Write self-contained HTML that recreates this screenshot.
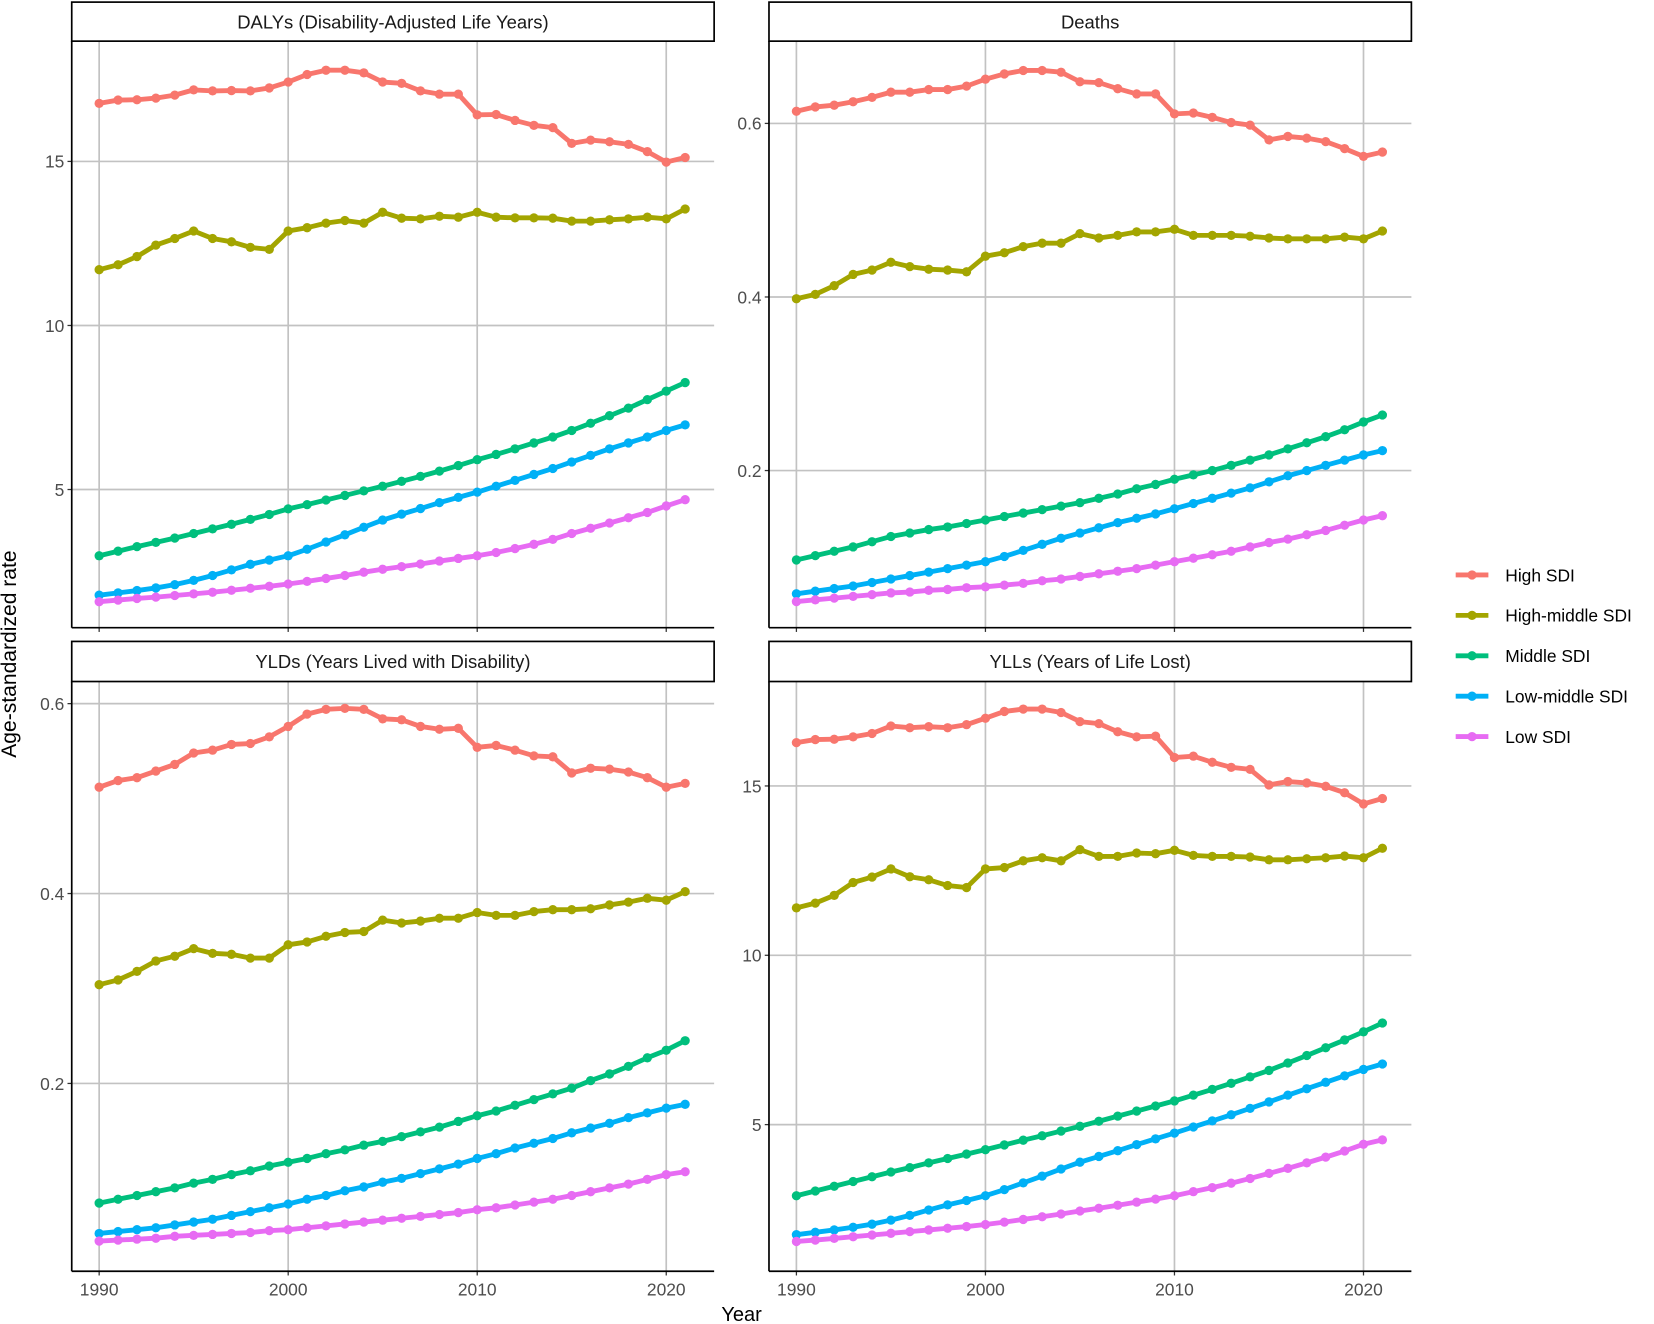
<!DOCTYPE html>
<html><head><meta charset="utf-8"><style>
html,body{margin:0;padding:0;background:#fff;}
svg{display:block;font-family:"Liberation Sans",Arial,sans-serif;}
</style></head><body>
<svg id="chart" width="1654" height="1324" viewBox="0 0 1568 1255" preserveAspectRatio="none" xmlns="http://www.w3.org/2000/svg">
<text x="0" y="0" transform="translate(15,620) rotate(-90)" text-anchor="middle" font-size="20" fill="#000">Age-standardized rate</text>
<text x="703" y="1252" text-anchor="middle" font-size="19" fill="#000">Year</text>
</svg>
<script>
const years = [];
for (let y = 1990; y <= 2021; y++) years.push(y);
const seriesNames = ["High SDI","High-middle SDI","Middle SDI","Low-middle SDI","Low SDI"];
const colors = ["#F8766D","#A3A500","#00BF7D","#00B0F6","#E76BF3"];
const xTicks = [1990,2000,2010,2020];

const dalysHigh = [16.77,16.87,16.88,16.93,17.02,17.18,17.15,17.16,17.15,17.24,17.42,17.65,17.78,17.78,17.7,17.42,17.38,17.15,17.05,17.05,16.42,16.43,16.25,16.1,16.03,15.55,15.65,15.6,15.52,15.3,14.98,15.12];
const dalysHM = [11.7,11.85,12.1,12.45,12.65,12.88,12.65,12.55,12.38,12.32,12.88,12.98,13.12,13.2,13.12,13.45,13.27,13.25,13.33,13.3,13.45,13.3,13.28,13.28,13.27,13.18,13.18,13.22,13.25,13.3,13.25,13.55];
const dalysMid = [2.98,3.12,3.26,3.39,3.52,3.66,3.8,3.94,4.09,4.24,4.41,4.54,4.68,4.82,4.96,5.1,5.25,5.4,5.56,5.73,5.91,6.07,6.24,6.42,6.6,6.8,7.02,7.25,7.48,7.74,8.0,8.26];
const dalysLM = [1.78,1.85,1.92,2.0,2.1,2.23,2.38,2.55,2.72,2.85,2.98,3.18,3.4,3.62,3.85,4.07,4.25,4.42,4.6,4.76,4.92,5.1,5.28,5.46,5.64,5.84,6.04,6.24,6.42,6.6,6.8,6.97];
const dalysLow = [1.58,1.63,1.68,1.72,1.77,1.82,1.87,1.93,1.99,2.05,2.12,2.2,2.29,2.38,2.48,2.57,2.65,2.73,2.82,2.9,2.98,3.08,3.2,3.33,3.48,3.66,3.82,3.98,4.14,4.3,4.5,4.69];

const deathsHigh = [.614,.619,.621,.625,.630,.636,.636,.639,.639,.643,.651,.657,.661,.661,.659,.648,.647,.640,.634,.634,.611,.612,.607,.601,.598,.581,.585,.583,.579,.571,.562,.567];
const deathsHM = [.398,.403,.413,.426,.431,.440,.435,.432,.431,.429,.447,.451,.458,.462,.462,.473,.468,.471,.475,.475,.478,.471,.471,.471,.470,.468,.467,.467,.467,.469,.467,.476];
const deathsMid = [.097,.102,.107,.112,.118,.124,.128,.132,.135,.139,.143,.147,.151,.155,.159,.163,.168,.173,.179,.184,.190,.195,.200,.206,.212,.218,.225,.232,.239,.247,.256,.264];
const deathsLM = [.058,.061,.064,.067,.071,.075,.079,.083,.087,.091,.095,.101,.108,.115,.122,.128,.134,.140,.145,.150,.156,.162,.168,.174,.180,.187,.194,.200,.206,.212,.218,.223];
const deathsLow = [.049,.051,.053,.055,.057,.059,.060,.062,.063,.065,.066,.068,.070,.073,.075,.078,.081,.084,.087,.091,.095,.099,.103,.107,.112,.117,.121,.126,.131,.137,.143,.148];

const yldsHigh = [.512,.519,.522,.529,.536,.548,.551,.557,.558,.565,.576,.589,.594,.595,.594,.584,.583,.576,.573,.574,.554,.556,.551,.545,.544,.527,.532,.531,.528,.522,.512,.516];
const yldsHM = [.304,.309,.318,.329,.334,.342,.337,.336,.332,.332,.346,.349,.355,.359,.360,.372,.369,.371,.374,.374,.380,.377,.377,.381,.383,.383,.384,.388,.391,.395,.393,.402];
const yldsMid = [.074,.078,.082,.086,.090,.095,.099,.104,.108,.113,.117,.121,.126,.130,.135,.139,.144,.149,.154,.160,.166,.171,.177,.183,.189,.195,.203,.210,.218,.227,.235,.245];
const yldsLM = [.042,.044,.046,.048,.051,.054,.057,.061,.065,.069,.073,.078,.082,.087,.091,.096,.100,.105,.110,.115,.121,.126,.132,.137,.142,.148,.153,.158,.164,.169,.174,.178];
const yldsLow = [.034,.035,.036,.037,.039,.040,.041,.042,.043,.045,.046,.048,.050,.052,.054,.056,.058,.060,.062,.064,.067,.069,.072,.075,.078,.082,.086,.090,.094,.099,.104,.107];

const yllsHigh = [16.28,16.37,16.38,16.45,16.55,16.77,16.72,16.75,16.72,16.81,17.0,17.2,17.27,17.27,17.17,16.9,16.84,16.6,16.45,16.47,15.84,15.88,15.7,15.55,15.49,15.03,15.13,15.09,14.99,14.8,14.47,14.63];
const yllsHM = [11.4,11.54,11.77,12.15,12.31,12.55,12.32,12.23,12.06,12.0,12.55,12.59,12.79,12.88,12.79,13.12,12.92,12.92,13.02,13.0,13.1,12.95,12.92,12.92,12.9,12.82,12.82,12.85,12.88,12.93,12.88,13.16];
const yllsMid = [2.9,3.04,3.18,3.32,3.46,3.6,3.73,3.87,4.0,4.13,4.26,4.4,4.54,4.67,4.81,4.95,5.1,5.25,5.4,5.55,5.7,5.87,6.04,6.22,6.41,6.6,6.82,7.04,7.27,7.5,7.74,8.0];
const yllsLM = [1.75,1.82,1.89,1.97,2.06,2.18,2.32,2.48,2.63,2.76,2.9,3.08,3.28,3.48,3.69,3.89,4.06,4.23,4.41,4.58,4.75,4.93,5.11,5.29,5.48,5.67,5.87,6.06,6.25,6.44,6.63,6.79];
const yllsLow = [1.55,1.59,1.64,1.69,1.74,1.79,1.84,1.89,1.94,1.99,2.05,2.12,2.2,2.28,2.36,2.45,2.53,2.62,2.71,2.8,2.9,3.02,3.14,3.27,3.41,3.56,3.71,3.87,4.04,4.22,4.42,4.55];

const panels = [
  {name:"dalys", title:"DALYs (Disability-Adjusted Life Years)", x0:68, x1:677, y0:39, y1:595, sTop:2, domain:[0.788,18.666], yTicks:[5,10,15], yLabels:["5","10","15"], data:[dalysHigh,dalysHM,dalysMid,dalysLM,dalysLow]},
  {name:"deaths", title:"Deaths", x0:729, x1:1338, y0:39, y1:595, sTop:2, domain:[0.0189,0.6948], yTicks:[0.2,0.4,0.6], yLabels:["0.2","0.4","0.6"], data:[deathsHigh,deathsHM,deathsMid,deathsLM,deathsLow]},
  {name:"ylds", title:"YLDs (Years Lived with Disability)", x0:68, x1:677, y0:646, y1:1205, sTop:608, domain:[0.0022,0.6233], yTicks:[0.2,0.4,0.6], yLabels:["0.2","0.4","0.6"], data:[yldsHigh,yldsHM,yldsMid,yldsLM,yldsLow]},
  {name:"ylls", title:"YLLs (Years of Life Lost)", x0:729, x1:1338, y0:646, y1:1205, sTop:608, domain:[0.670,18.084], yTicks:[5,10,15], yLabels:["5","10","15"], data:[yllsHigh,yllsHM,yllsMid,yllsLM,yllsLow]}
];

const NS = "http://www.w3.org/2000/svg";
const svg = document.getElementById("chart");
function mk(tag, attrs, parent) {
  const e = document.createElementNS(NS, tag);
  for (const k in attrs) e.setAttribute(k, attrs[k]);
  (parent || svg).appendChild(e);
  return e;
}

panels.forEach(p => {
  const g = mk("g", {});
  
  
  const xScale = yr => p.x0 + 26 + (yr - 1990) * 17.92;
  const yScale = v => p.y1 - (v - p.domain[0]) / (p.domain[1] - p.domain[0]) * (p.y1 - p.y0);

  xTicks.forEach(t => {
    const l = mk("line", {x1:xScale(t), x2:xScale(t), y1:p.y0, y2:p.y1, stroke:"#c2c2c2", "stroke-width":1.6}, g);
    
    
  });
  p.yTicks.forEach((t, i) => {
    const l = mk("line", {x1:p.x0, x2:p.x1, y1:yScale(t), y2:yScale(t), stroke:"#c2c2c2", "stroke-width":1.6}, g);
    
    
    const tk = mk("line", {x1:p.x0 - 4, x2:p.x0, y1:yScale(t), y2:yScale(t), stroke:"#333", "stroke-width":1.2}, g);
    
    
    const tx = mk("text", {x:p.x0 - 7, y:yScale(t) + 6, "text-anchor":"end", "font-size":16.5, fill:"#4d4d4d"}, g);
    tx.textContent = p.yLabels[i];
    
    
  });
  xTicks.forEach(t => {
    const tk = mk("line", {x1:xScale(t), x2:xScale(t), y1:p.y1, y2:p.y1 + 4, stroke:"#333", "stroke-width":1.2}, g);
    
    
    if (p.y1 > 1000) {
      const tx = mk("text", {x:xScale(t), y:p.y1 + 23, "text-anchor":"middle", "font-size":16.5, fill:"#4d4d4d"}, g);
      tx.textContent = String(t);
      
      
    }
  });
  const ax = mk("line", {x1:p.x0, x2:p.x0, y1:p.y0, y2:p.y1, stroke:"#000", "stroke-width":1.6}, g);
  
  
  const bx = mk("line", {x1:p.x0, x2:p.x1, y1:p.y1, y2:p.y1, stroke:"#000", "stroke-width":1.6}, g);
  
  

  p.data.forEach((arr, si) => {
    const sg = mk("g", {}, g);
    
    
    const pts = arr.map((v, i) => xScale(years[i]).toFixed(2) + "," + yScale(v).toFixed(2)).join(" ");
    const pl = mk("polyline", {points:pts, fill:"none", stroke:colors[si], "stroke-width":4.6, "stroke-linejoin":"round"}, sg);
    
    
    arr.forEach((v, i) => {
      const c = mk("circle", {cx:xScale(years[i]), cy:yScale(v), r:4.4, fill:colors[si]}, sg);
      
      
    });
  });

  const r = mk("rect", {x:p.x0, y:p.sTop, width:p.x1 - p.x0, height:p.y0 - p.sTop, fill:"#fff", stroke:"#000", "stroke-width":1.6}, g);
  
  
  const st = mk("text", {x:(p.x0 + p.x1) / 2, y:p.sTop + 25, "text-anchor":"middle", "font-size":17.5, fill:"#1a1a1a"}, g);
  st.textContent = p.title;
  
  
});

const lg = mk("g", {});


seriesNames.forEach((n, i) => {
  const y = 545 + i * 38.3;
  const e = mk("g", {}, lg);
  
  
  const l = mk("line", {x1:1380, x2:1411, y1:y, y2:y, stroke:colors[i], "stroke-width":4.6}, e);
  
  
  const c = mk("circle", {cx:1395.5, cy:y, r:4.4, fill:colors[i]}, e);
  
  
  const t = mk("text", {x:1427, y:y + 6, "font-size":16.5, fill:"#000"}, e);
  t.textContent = n;
  
  
});
</script>
</body></html>
